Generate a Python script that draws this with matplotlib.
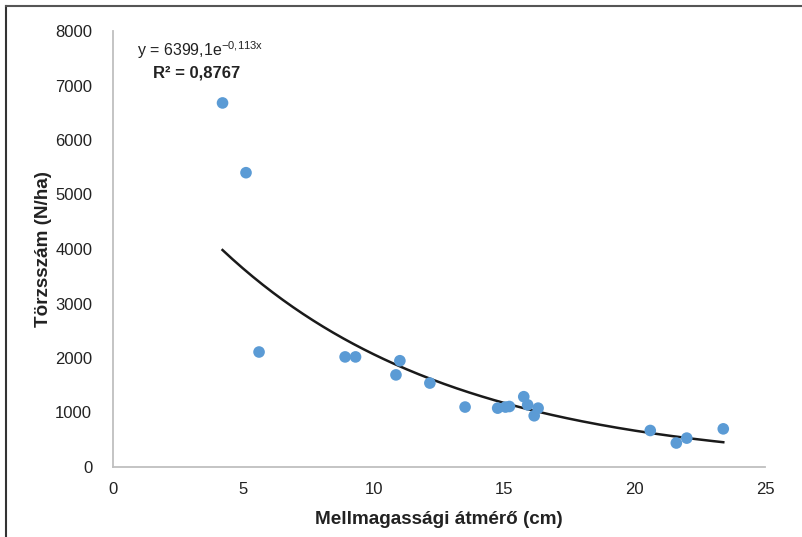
import numpy as np
import matplotlib
matplotlib.use("Agg")
import matplotlib.pyplot as plt
from matplotlib.lines import Line2D
from matplotlib import font_manager

# Data
diameter_cm = [4.2, 5.1, 5.6, 8.9, 9.3, 11.0, 10.85, 12.15, 13.5, 14.75,
               15.05, 15.2, 15.75, 15.9, 16.3, 16.15, 20.6, 21.6, 22.0, 23.4]
stems_per_ha = [6680, 5400, 2110, 2020, 2020, 1950, 1690, 1540, 1100, 1080,
                1100, 1110, 1290, 1140, 1080, 940, 670, 440, 530, 700]

# Exponential trendline parameters (as shown on the chart)
fit_a = 6399.1
fit_b = -0.113
fit_label = "y = 6399,1e$^{-0{,}113x}$"
r2_label = "R² = 0,8767"

x_ticks = [0, 5, 10, 15, 20, 25]
y_ticks = [0, 1000, 2000, 3000, 4000, 5000, 6000, 7000, 8000]
x_label = "Mellmagassági átmérő (cm)"
y_label = "Törzsszám (N/ha)"

names = {f.name for f in font_manager.fontManager.ttflist}
fam = "Liberation Sans Narrow" if "Liberation Sans Narrow" in names else "Liberation Sans"
plt.rcParams['font.family'] = [fam, 'DejaVu Sans']
plt.rcParams['mathtext.fontset'] = 'custom'
plt.rcParams['mathtext.rm'] = fam
plt.rcParams['mathtext.it'] = fam
plt.rcParams['mathtext.bf'] = fam + ':bold'

fig = plt.figure(figsize=(8.03, 5.37), dpi=100)
ax = fig.add_axes([113/803, 1-467/537, (765-113)/803, (467-31)/537])

# trendline across the data range
xs = np.linspace(min(diameter_cm), max(diameter_cm), 200)
ax.plot(xs, fit_a*np.exp(fit_b*xs), color='#1a1a1a', lw=1.8, zorder=2)

ax.scatter(diameter_cm, stems_per_ha, s=70, color='#5B9BD5', edgecolors='none', zorder=3)

ax.set_xlim(0, 25)
ax.set_ylim(0, 8000)
ax.set_xticks(x_ticks)
ax.set_yticks(y_ticks)
ax.tick_params(length=0, labelsize=12, colors='#222222')
ax.tick_params(axis='y', pad=15)
ax.tick_params(axis='x', pad=11)
for s in ['top', 'right']:
    ax.spines[s].set_visible(False)
for s in ['left', 'bottom']:
    ax.spines[s].set_color('#bfbfbf')
    ax.spines[s].set_linewidth(1.3)

ax.set_xlabel(x_label, fontsize=13.6, fontweight='bold', color='#222222', labelpad=10)
ax.set_ylabel(y_label, fontsize=13.6, fontweight='bold', color='#222222')
ax.yaxis.set_label_coords((52-113)/652, 0.5)

fig.text(137/803, 1-50/537, fit_label, fontsize=11.5, color='#222222', va='center', ha='left')
fig.text(153/803, 1-73/537, r2_label, fontsize=12, fontweight='bold', color='#222222', va='center', ha='left')

# figure frame lines (left and top)
fig.add_artist(Line2D([6/803, 6/803], [0, 1-6/537], transform=fig.transFigure, color='#333333', lw=1.5))
fig.add_artist(Line2D([6/803, 1], [1-6/537, 1-6/537], transform=fig.transFigure, color='#555555', lw=1.5))

fig.savefig("out.png", dpi=100)
